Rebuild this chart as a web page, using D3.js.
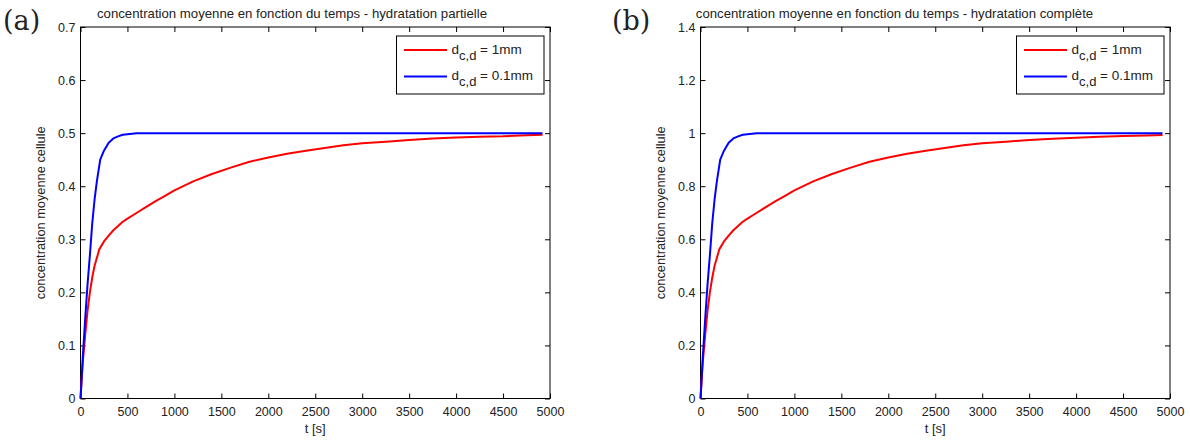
<!DOCTYPE html>
<html>
<head>
<meta charset="utf-8">
<script src="https://cdn.jsdelivr.net/npm/d3@7"></script>
<style>
  html, body { margin: 0; padding: 0; background: #fff; }
  svg { display: block; }
  text { font-family: "Liberation Sans", Arial, sans-serif; fill: #222; }
</style>
</head>
<body>
<svg id="chart" width="1190" height="441"></svg>
<script>
// ---------------- data ----------------
const xTicks = [0, 500, 1000, 1500, 2000, 2500, 3000, 3500, 4000, 4500, 5000];
const yTicksA = [0, 0.1, 0.2, 0.3, 0.4, 0.5, 0.6, 0.7];
const yTicksB = [0, 0.2, 0.4, 0.6, 0.8, 1, 1.2, 1.4];

const titleA = "concentration moyenne en fonction du temps - hydratation partielle";
const titleB = "concentration moyenne en fonction du temps - hydratation complète";
const panelLabels = ["(a)", "(b)"];
const xLabel = "t [s]";
const yLabel = "concentration moyenne cellule";
const legendNames = ["1mm", "0.1mm"];

// (a) partial hydration
const tRedA  = [0, 10, 25, 50, 75, 100, 125, 150, 200, 250, 300, 350, 400, 450, 500, 600, 700, 800, 900, 1000, 1200, 1400, 1600, 1800, 2000, 2200, 2400, 2600, 2800, 3000, 3250, 3500, 3750, 4000, 4250, 4500, 4750, 4920];
const redA   = [0, 0.03, 0.07, 0.12, 0.165, 0.2, 0.228, 0.25, 0.281, 0.296, 0.307, 0.317, 0.325, 0.333, 0.339, 0.35, 0.361, 0.372, 0.382, 0.392, 0.409, 0.423, 0.435, 0.446, 0.454, 0.461, 0.467, 0.472, 0.477, 0.481, 0.484, 0.487, 0.49, 0.492, 0.493, 0.494, 0.496, 0.497];
const tBlueA = [0, 10, 25, 50, 75, 100, 125, 150, 175, 210, 250, 300, 350, 400, 450, 500, 600, 4920];
const blueA  = [0, 0.03, 0.08, 0.15, 0.215, 0.27, 0.33, 0.375, 0.41, 0.45, 0.467, 0.482, 0.49, 0.494, 0.497, 0.498, 0.5, 0.5];

// (b) complete hydration
const tRedB  = [0, 10, 25, 50, 75, 100, 125, 150, 200, 250, 300, 350, 400, 450, 500, 600, 700, 800, 900, 1000, 1200, 1400, 1600, 1800, 2000, 2200, 2400, 2600, 2800, 3000, 3250, 3500, 3750, 4000, 4250, 4500, 4750, 4920];
const redB   = [0, 0.06, 0.14, 0.24, 0.33, 0.4, 0.455, 0.5, 0.562, 0.592, 0.614, 0.634, 0.65, 0.666, 0.678, 0.7, 0.722, 0.744, 0.764, 0.784, 0.818, 0.846, 0.87, 0.892, 0.908, 0.922, 0.934, 0.944, 0.954, 0.962, 0.968, 0.974, 0.979, 0.983, 0.986, 0.989, 0.991, 0.993];
const tBlueB = [0, 10, 25, 50, 75, 100, 125, 150, 175, 210, 250, 300, 350, 400, 450, 500, 600, 4920];
const blueB  = [0, 0.06, 0.16, 0.3, 0.43, 0.54, 0.66, 0.75, 0.82, 0.9, 0.934, 0.964, 0.98, 0.988, 0.994, 0.996, 1.0, 1.0];

// ---------------- drawing ----------------
const svg = d3.select("#chart");
const fmt = d => String(+d.toFixed(2));

function panel(cfg) {
  const x = d3.scaleLinear().domain([0, 5000]).range([cfg.x0, cfg.x1]);
  const y = d3.scaleLinear().domain([0, cfg.ymax]).range([cfg.y1, cfg.y0]);
  const g = svg.append("g");

  g.append("rect")
    .attr("x", cfg.x0).attr("y", cfg.y0)
    .attr("width", cfg.x1 - cfg.x0).attr("height", cfg.y1 - cfg.y0)
    .attr("fill", "#fff").attr("stroke", "#000").attr("stroke-width", 1);

  const styleAxis = sel => {
    sel.select(".domain").remove();
    sel.selectAll("line").attr("stroke", "#000");
    sel.selectAll("text").attr("font-family", "Liberation Sans, Arial, sans-serif")
      .attr("font-size", 12.5).attr("fill", "#222");
  };

  g.append("g").attr("transform", `translate(0,${cfg.y1})`)
    .call(d3.axisBottom(x).tickValues(xTicks).tickSizeInner(-5).tickSizeOuter(0).tickPadding(9).tickFormat(d3.format("d")))
    .call(styleAxis);
  g.append("g").attr("transform", `translate(0,${cfg.y0})`)
    .call(d3.axisTop(x).tickValues(xTicks).tickSizeInner(-5).tickSizeOuter(0).tickFormat(""))
    .call(styleAxis);
  g.append("g").attr("transform", `translate(${cfg.x0},0)`)
    .call(d3.axisLeft(y).tickValues(cfg.yTicks).tickSizeInner(-5).tickSizeOuter(0).tickPadding(5).tickFormat(fmt))
    .call(styleAxis);
  g.append("g").attr("transform", `translate(${cfg.x1},0)`)
    .call(d3.axisRight(y).tickValues(cfg.yTicks).tickSizeInner(-5).tickSizeOuter(0).tickFormat(""))
    .call(styleAxis);

  const line = d3.line().x(d => x(d[0])).y(d => y(d[1]));
  cfg.series.forEach(s => {
    g.append("path")
      .datum(d3.zip(s.t, s.v))
      .attr("d", line)
      .attr("fill", "none")
      .attr("stroke", s.color)
      .attr("stroke-width", 2)
      .attr("stroke-linejoin", "round");
  });

  g.append("text").attr("x", cfg.titleX).attr("y", 18)
    .attr("text-anchor", "middle").attr("font-size", 13.2).text(cfg.title);
  g.append("text").attr("x", (cfg.x0 + cfg.x1) / 2).attr("y", 433)
    .attr("text-anchor", "middle").attr("font-size", 13).text(xLabel);
  g.append("text")
    .attr("transform", `translate(${cfg.ylabX},${(cfg.y0 + cfg.y1) / 2}) rotate(-90)`)
    .attr("text-anchor", "middle").attr("font-size", 12.8).text(yLabel);
  g.append("text").attr("x", cfg.labX).attr("y", 29.5)
    .attr("font-size", 27).attr("fill", "#000").style("font-family", "'DejaVu Serif', serif")
    .text(cfg.panelLabel);

  const lg = g.append("g");
  lg.append("rect")
    .attr("x", cfg.legX).attr("y", 36)
    .attr("width", cfg.legW).attr("height", 58)
    .attr("fill", "#fff").attr("stroke", "#000").attr("stroke-width", 1);
  cfg.series.forEach((s, i) => {
    const ly = 50 + i * 26.5;
    lg.append("line")
      .attr("x1", cfg.legX + 7.5).attr("x2", cfg.legX + 50.5)
      .attr("y1", ly).attr("y2", ly)
      .attr("stroke", s.color).attr("stroke-width", 2);
    const t = lg.append("text").attr("x", cfg.legX + 55).attr("y", ly + 3.5).attr("font-size", 13.5);
    t.append("tspan").text("d");
    t.append("tspan").attr("dy", 6).attr("font-size", 13).text("c,d");
    t.append("tspan").attr("dy", -6).text(" = " + s.name);
  });
}

panel({
  x0: 80.5, x1: 550, y0: 27, y1: 398.5, ymax: 0.7, yTicks: yTicksA,
  title: titleA, titleX: 292, ylabX: 45, labX: 3, panelLabel: panelLabels[0],
  legX: 396.5, legW: 147.5,
  series: [
    { t: tRedA, v: redA, color: "#ff0000", name: legendNames[0] },
    { t: tBlueA, v: blueA, color: "#0000ff", name: legendNames[1] }
  ]
});
panel({
  x0: 700.5, x1: 1170, y0: 27, y1: 398.5, ymax: 1.4, yTicks: yTicksB,
  title: titleB, titleX: 894.5, ylabX: 665, labX: 612, panelLabel: panelLabels[1],
  legX: 1016.5, legW: 147.5,
  series: [
    { t: tRedB, v: redB, color: "#ff0000", name: legendNames[0] },
    { t: tBlueB, v: blueB, color: "#0000ff", name: legendNames[1] }
  ]
});
</script>
</body>
</html>
